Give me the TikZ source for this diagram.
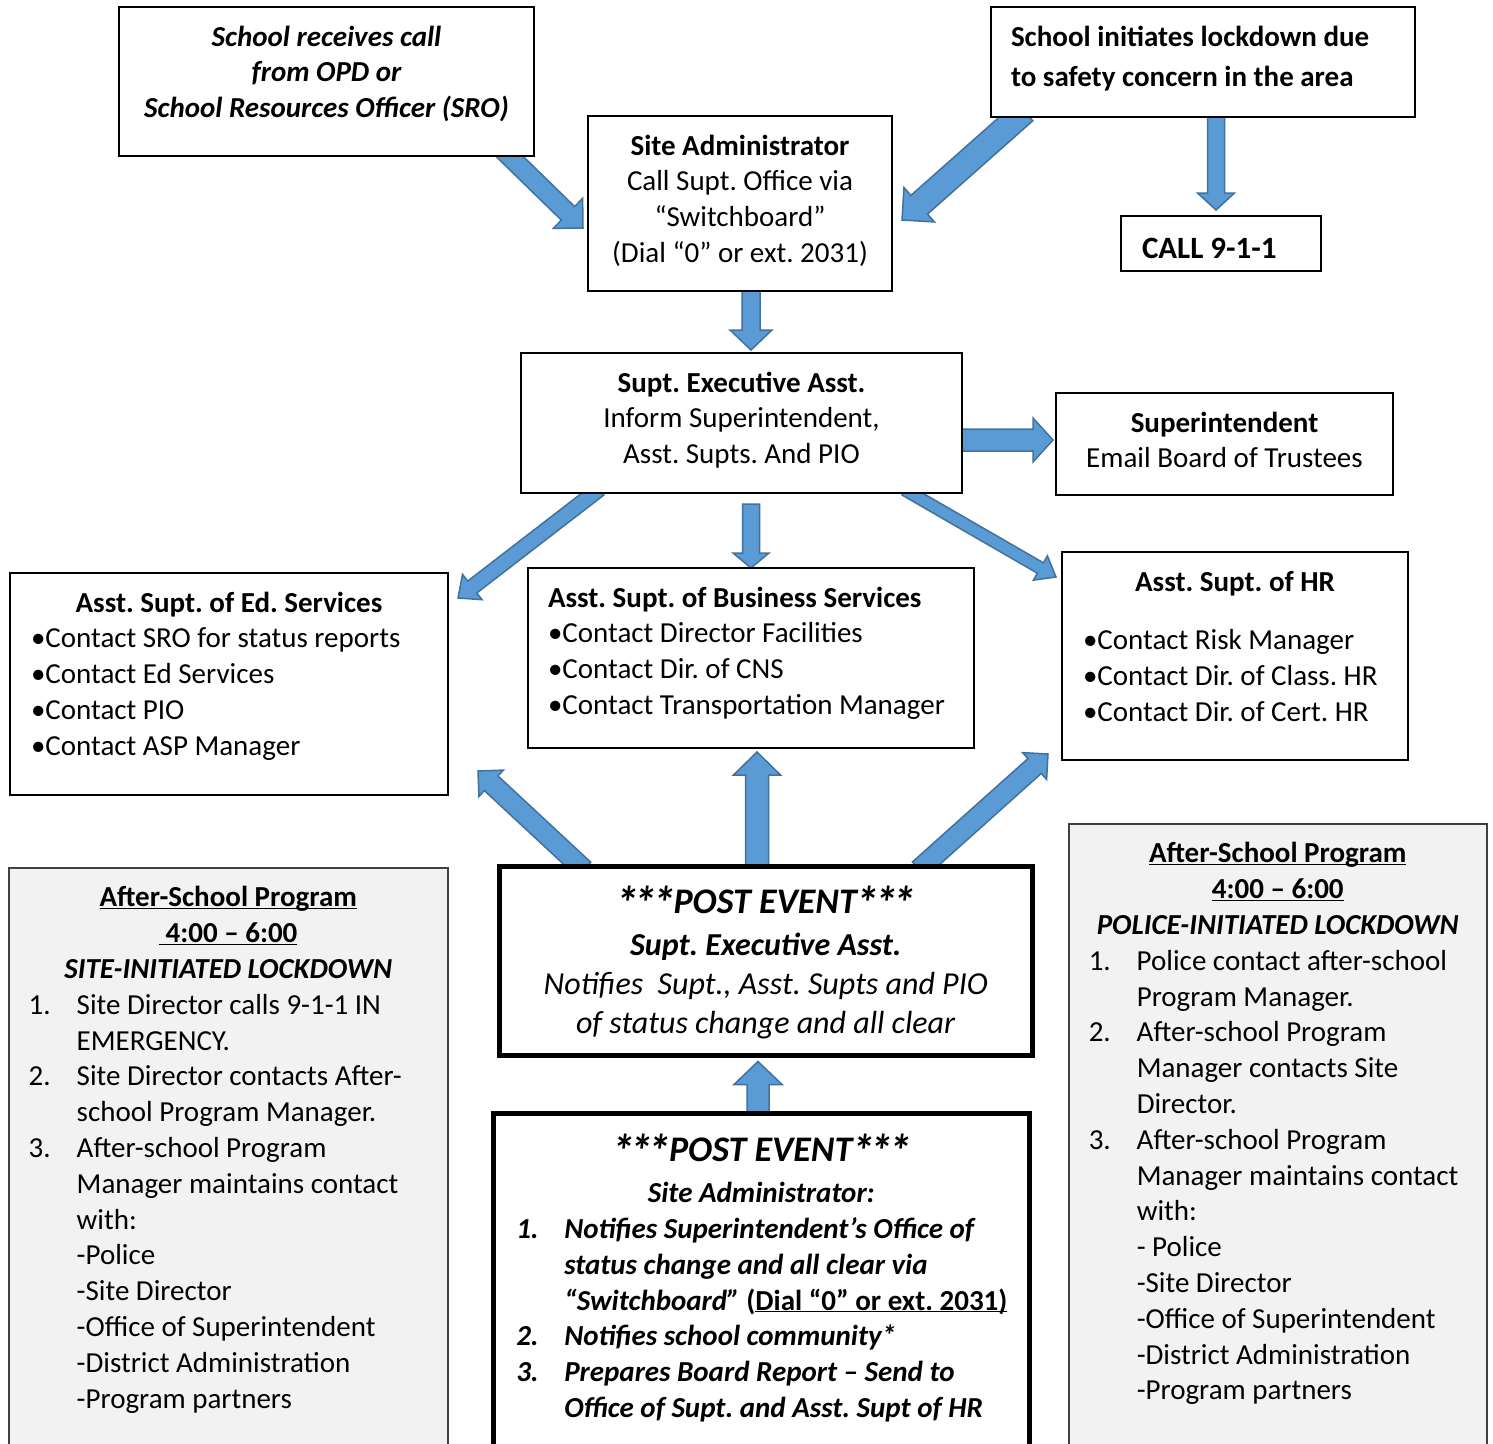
\documentclass[tikz,border=0pt]{standalone}
\usepackage{fontspec}
\setmainfont{Carlito}
\usetikzlibrary{calc,backgrounds}
\frenchspacing

\definecolor{arrowfill}{HTML}{5B9BD5}
\definecolor{arrowedge}{HTML}{41719C}
\definecolor{panelgray}{HTML}{F2F2F2}

% block arrow: half shaft, half head, head length, from, to
\newcommand{\fatarrow}[5]{%
  \coordinate (fa-s) at #4;
  \coordinate (fa-t) at #5;
  \coordinate (fa-b) at ($(fa-t)!#3!(fa-s)$);
  \filldraw[blockarrow] ($(fa-s)!#1!90:(fa-t)$) -- ($(fa-b)!#1!-90:(fa-s)$)
    -- ($(fa-b)!#2!-90:(fa-s)$) -- (fa-t) -- ($(fa-b)!#2!90:(fa-s)$)
    -- ($(fa-b)!#1!90:(fa-s)$) -- ($(fa-s)!#1!-90:(fa-t)$) -- cycle;
}
% box contents: [top gap] width, height, text
\newcommand{\inbox}[4][14pt]{\parbox[c][#3pt][t]{#2pt}{\vspace*{#1}#4}}
\newcommand{\numitem}[2]{\par\hangindent=48pt\hangafter=1\makebox[48pt][l]{#1}#2\par}
\newcommand{\ulbox}[1]{\underline{\smash{#1}}}
\newcommand{\astx}{\raisebox{-6pt}{\scalebox{1.3}{*}}}
\newcommand{\poststars}{\astx\kern-5pt\astx\kern-5pt\astx}

\begin{document}
\begin{tikzpicture}[x=1pt, y=-1pt,
  box/.style={draw, line width=2pt, fill=white, inner sep=0pt, anchor=north west,
    font=\fontsize{29}{35.8}\selectfont},
  postbox/.style={box, line width=4.5pt},
  panel/.style={box, line width=1.5pt, draw=black!75, fill=panelgray},
  blockarrow/.style={fill=arrowfill, draw=arrowedge, line width=1.5pt}]
  \path[use as bounding box] (0,0) rectangle (1493,1443);
  \clip (0,0) rectangle (1493,1443);

  % Top row: how the lockdown starts
  \node[box] (sro) at (118,6) {\inbox{415}{149}{\centering\bfseries\itshape\strut
    School receives call\\from OPD or\\School Resources Officer (SRO)}};
  \node[box] (lockin) at (990,6) {\inbox{424}{110}{\bfseries\leftskip=20pt\strut
    School initiates lockdown due\\[4.2pt]to safety concern in the area}};
  \node[box] (siteadm) at (587,115) {\inbox{304}{175}{\centering\strut
    \textbf{Site Administrator}\\Call Supt. Office via\\“Switchboard”\\(Dial “0” or ext. 2031)}};
  \node[box] (call) at (1120,215) {\inbox[15.4pt]{200}{55}{\fontsize{31}{38}\selectfont
    \leftskip=21pt\strut\textbf{CALL 9-1-1}}};

  % Superintendent's office
  \node[box] (exec) at (520,352) {\inbox{441}{140}{\centering\strut
    \textbf{Supt. Executive Asst.}\\Inform Superintendent,\\Asst. Supts. And PIO}};
  \node[box] (supt) at (1055,392) {\inbox{337}{102}{\centering\strut
    \textbf{Superintendent}\\Email Board of Trustees}};

  % Assistant superintendents
  \node[box] (edsvc) at (9,572) {\inbox{438}{222}{{\centering\strut
    \textbf{Asst. Supt. of Ed. Services}\par}\leftskip=21pt
    •Contact SRO for status reports\\•Contact Ed Services\\•Contact PIO\\•Contact ASP Manager}};
  \node[box] (bizsvc) at (527,567) {\inbox{446}{180}{\leftskip=20pt\strut
    \textbf{Asst. Supt. of Business Services}\\•Contact Director Facilities\\
    •Contact Dir. of CNS\\•Contact Transportation Manager}};
  \node[box] (hr) at (1061,551) {\inbox{346}{208}{{\centering\strut
    \textbf{Asst. Supt. of HR}\par}\vspace{23pt}\leftskip=21pt
    •Contact Risk Manager\\•Contact Dir. of Class. HR\\•Contact Dir. of Cert. HR}};

  % After-school panels
  \node[panel] (aspsite) at (8,867) {\inbox{439}{640}{{\centering\strut
    \textbf{\ulbox{After-School Program}}\\\textbf{\ulbox{\ 4:00 – 6:00}}\\
    \textbf{\textit{SITE-INITIATED LOCKDOWN}}\par}\leftskip=20pt
    \numitem{1.}{Site Director calls 9-1-1 IN\\EMERGENCY.}
    \numitem{2.}{Site Director contacts After-\\school Program Manager.}
    \numitem{3.}{After-school Program\\Manager maintains contact\\with:\\-Police\\-Site Director\\
      -Office of Superintendent\\-District Administration\\-Program partners}}};
  \node[panel] (asppol) at (1068,823) {\inbox{418}{680}{{\centering\strut
    \textbf{\ulbox{After-School Program}}\\\textbf{\ulbox{4:00 – 6:00}}\\
    \textbf{\textit{POLICE-INITIATED LOCKDOWN}}\par}\leftskip=20pt
    \numitem{1.}{Police contact after-school\\Program Manager.}
    \numitem{2.}{After-school Program\\Manager contacts Site\\Director.}
    \numitem{3.}{After-school Program\\Manager maintains contact\\with:\\- Police\\-Site Director\\
      -Office of Superintendent\\-District Administration\\-Program partners}}};

  % Post event
  \node[postbox] (post1) at (497,864) {\inbox[16.7pt]{533}{189}{\fontsize{32}{39}\selectfont
    \centering{\fontsize{36}{44}\selectfont\strut\textbf{\textit{\poststars\kern-2pt POST EVENT\kern-1pt\poststars}}}\\[3pt]
    \textbf{\textit{Supt. Executive Asst.}}\\\textit{Notifies\ \ Supt., Asst. Supts and PIO}\\
    \textit{of status change and all clear}}};
  \node[postbox] (post2) at (491,1111) {\inbox[17.8pt]{536}{420}{{\centering
    {\fontsize{36}{44}\selectfont\strut\textbf{\textit{\poststars\kern-2pt POST EVENT\kern-1pt\poststars}}}\\[5pt]
    \textbf{\textit{Site Administrator:}}\par}\bfseries\itshape\leftskip=23pt
    \numitem{1.}{Notifies Superintendent’s Office of\\status change and all clear via\\
      “Switchboard” \textup{(\ulbox{Dial “0” or ext. 2031)}}}
    \numitem{2.}{Notifies school community*}
    \numitem{3.}{Prepares Board Report – Send to\\Office of Supt. and Asst. Supt of HR}}};

  % Block arrows, behind the boxes
  \begin{scope}[on background layer]
    \fatarrow{9.5pt}{21pt}{21pt}{($(sro.south west)+(384,-8)$)}{($(siteadm.north west)+(-4,113)$)}
    \fatarrow{12.5pt}{23pt}{23pt}{($(lockin.south west)+(34.5,-6.6)$)}{($(siteadm.north east)+(9,105)$)}
    \fatarrow{8.5pt}{18.5pt}{17pt}{($(lockin.south west)+(226,-10)$)}{($(call.north west)+(96,-5)$)}
    \fatarrow{9pt}{21pt}{20pt}{($(siteadm.south west)+(164,-4)$)}{($(exec.north west)+(231,-2)$)}
    \fatarrow{11pt}{22pt}{20pt}{($(exec.north east)+(-6,88)$)}{($(supt.north west)+(-2,48)$)}
    \fatarrow{7.5pt}{16pt}{18pt}{($(exec.south west)+(79.3,-4.9)$)}{($(edsvc.north east)+(9,26)$)}
    \fatarrow{8.5pt}{18pt}{15pt}{($(exec.south west)+(231,10)$)}{($(bizsvc.north west)+(224,1)$)}
    \fatarrow{6pt}{14pt}{18pt}{($(exec.south west)+(385.1,-4.1)$)}{($(hr.north west)+(-5,26)$)}
    \fatarrow{10pt}{18pt}{18pt}{($(post1.north west)+(86.9,5.5)$)}{($(edsvc.south east)+(29,-25)$)}
    \fatarrow{11.5pt}{23.5pt}{23pt}{($(post1.north west)+(260,6)$)}{($(bizsvc.south west)+(230,3)$)}
    \fatarrow{10pt}{18pt}{18pt}{($(post1.north west)+(422.1,5.4)$)}{($(hr.south west)+(-13,-7)$)}
    \fatarrow{11pt}{24pt}{23pt}{($(post2.north west)+(267,6)$)}{($(post1.south west)+(261,4)$)}
  \end{scope}
\end{tikzpicture}
\end{document}
